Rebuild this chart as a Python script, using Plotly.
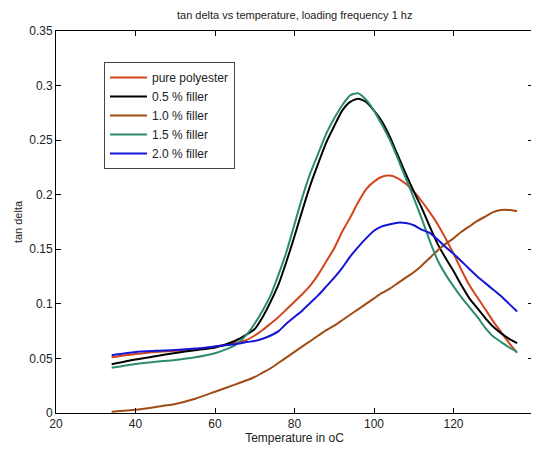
import plotly.graph_objects as go

temperature = [34, 40, 45, 50, 55, 60, 65, 68, 70, 72, 74, 76, 78, 80, 82, 84, 86, 88, 90, 92, 94, 96,
               98, 100, 102, 104, 106, 108, 110, 112, 114, 116, 118, 120, 122, 124, 126, 128, 130, 132, 134, 136]

pure_polyester = [0.051, 0.054, 0.056, 0.057, 0.0585, 0.061, 0.064, 0.067, 0.071, 0.076, 0.082, 0.088, 0.095, 0.102,
                  0.109, 0.117, 0.127, 0.139, 0.151, 0.166, 0.179, 0.193, 0.205, 0.212, 0.2165, 0.2175, 0.215, 0.210,
                  0.203, 0.194, 0.184, 0.173, 0.160, 0.146, 0.131, 0.117, 0.106, 0.095, 0.084, 0.074, 0.064, 0.055]

filler_05 = [0.0446, 0.049, 0.052, 0.055, 0.0575, 0.060, 0.066, 0.072, 0.077, 0.088, 0.102, 0.118, 0.139, 0.162,
             0.186, 0.209, 0.229, 0.248, 0.263, 0.277, 0.285, 0.288, 0.285, 0.277, 0.267, 0.253, 0.236, 0.219,
             0.203, 0.188, 0.171, 0.155, 0.142, 0.130, 0.117, 0.105, 0.096, 0.087, 0.079, 0.073, 0.068, 0.064]

filler_10 = [0.0012, 0.003, 0.0055, 0.0082, 0.013, 0.0195, 0.026, 0.030, 0.033, 0.037, 0.041, 0.046, 0.051, 0.056,
             0.061, 0.066, 0.071, 0.076, 0.080, 0.085, 0.090, 0.095, 0.100, 0.105, 0.110, 0.114, 0.119, 0.124,
             0.129, 0.135, 0.142, 0.149, 0.155, 0.160, 0.166, 0.171, 0.176, 0.180, 0.184, 0.186, 0.186, 0.185]

filler_15 = [0.0415, 0.045, 0.047, 0.0486, 0.051, 0.0547, 0.062, 0.072, 0.082, 0.094, 0.108, 0.127, 0.148, 0.173,
             0.198, 0.220, 0.238, 0.256, 0.270, 0.282, 0.291, 0.293, 0.287, 0.277, 0.264, 0.250, 0.233, 0.215,
             0.197, 0.178, 0.158, 0.140, 0.127, 0.116, 0.106, 0.097, 0.088, 0.078, 0.070, 0.065, 0.060, 0.056]

filler_20 = [0.053, 0.056, 0.057, 0.0577, 0.059, 0.061, 0.063, 0.065, 0.066, 0.068, 0.071, 0.075, 0.082, 0.088,
             0.094, 0.101, 0.108, 0.116, 0.124, 0.133, 0.1433, 0.152, 0.160, 0.167, 0.171, 0.173, 0.1744, 0.174,
             0.172, 0.168, 0.165, 0.159, 0.152, 0.146, 0.139, 0.132, 0.125, 0.119, 0.113, 0.107, 0.100, 0.093]

series = [
    ("pure polyester", pure_polyester, "#D2461E"),
    ("0.5 % filler", filler_05, "#000000"),
    ("1.0 % filler", filler_10, "#A04B14"),
    ("1.5 % filler", filler_15, "#2E8B6E"),
    ("2.0 % filler", filler_20, "#1515D8"),
]

x_ticks = [20, 40, 60, 80, 100, 120, 140]
y_ticks = [0, 0.05, 0.1, 0.15, 0.2, 0.25, 0.3, 0.35]
y_tick_text = ["0", "0.05", "0.1", "0.15", "0.2", "0.25", "0.3", "0.35"]

fig = go.Figure()
for name, vals, color in series:
    fig.add_trace(go.Scatter(x=temperature, y=vals, mode="lines", name=name,
                             line=dict(color=color, width=2, shape="spline", smoothing=0.6)))

font_family = "Liberation Sans, Arial, sans-serif"
# the page body adds an 8px margin, so the figure is sized to fit the window
fig.update_layout(
    width=531, height=444,
    margin=dict(l=48, r=6, t=23, b=39),
    paper_bgcolor="white", plot_bgcolor="white",
    font=dict(family=font_family, size=12, color="#222222"),
    title=dict(text="tan delta vs temperature, loading frequency 1 hz", x=0.540, xanchor="center",
               y=0.983, yanchor="middle", font=dict(size=11, color="#222222")),
    showlegend=True,
    legend=dict(x=0.1006, y=0.919, xanchor="left", yanchor="top", bgcolor="white",
                bordercolor="#444444", borderwidth=1, font=dict(size=12, color="#222222"),
                tracegroupgap=0, itemwidth=37),
)
fig.update_xaxes(range=[20, 140], tickvals=x_ticks, ticks="inside", ticklen=5, tickcolor="black",
                 showline=True, linecolor="black", linewidth=1, mirror="ticks", showgrid=False, zeroline=False,
                 title=dict(text="Temperature in oC", font=dict(size=12), standoff=3),
                 tickfont=dict(size=12))
fig.update_yaxes(range=[0, 0.35], tickvals=y_ticks, ticktext=y_tick_text, ticks="inside", ticklen=5,
                 tickcolor="black", showline=True, linecolor="black", linewidth=1, mirror="ticks",
                 showgrid=False, zeroline=False,
                 title=dict(text="tan delta", font=dict(size=11), standoff=4),
                 tickfont=dict(size=12))

fig.write_html("out.html")
